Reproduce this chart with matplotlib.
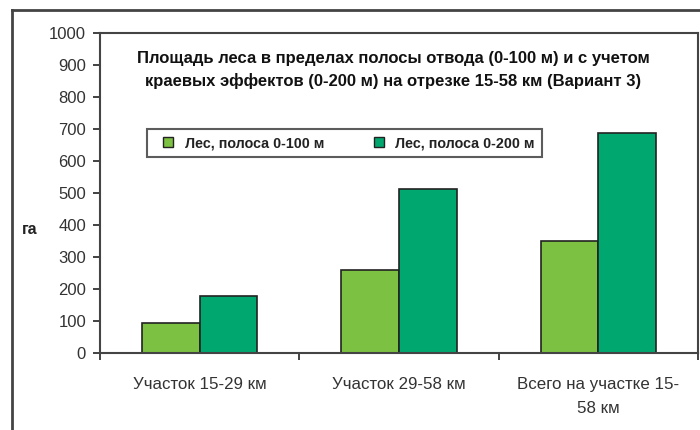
import numpy as np
import matplotlib
matplotlib.use('Agg')
from matplotlib import pyplot as plt
from matplotlib.lines import Line2D

# chart data
categories = ['Участок 15-29 км', 'Участок 29-58 км', 'Всего на участке 15-\n58 км']
forest_100 = [95, 258, 350]
forest_200 = [178, 512, 688]
series_names = ['Лес, полоса 0-100 м', 'Лес, полоса 0-200 м']
y_ticks = [0, 100, 200, 300, 400, 500, 600, 700, 800, 900, 1000]

title = ('Площадь леса в пределах полосы отвода (0-100 м) и с учетом\n'
         'краевых эффектов (0-200 м) на отрезке 15-58 км (Вариант 3)')

plt.rcParams['font.family'] = ['Liberation Sans', 'DejaVu Sans']

light_green = '#7DC142'
dark_green = '#00A870'
edge = '#222222'
text_color = '#333333'

fig = plt.figure(figsize=(7, 4.3), dpi=100)
ax = fig.add_axes([100 / 700, 77 / 430, 598 / 700, 320 / 430])

x = np.arange(len(categories))
width = 0.29
ax.bar(x - width / 2, forest_100, width, color=light_green, edgecolor=edge, linewidth=1.2,
       label=series_names[0])
ax.bar(x + width / 2, forest_200, width, color=dark_green, edgecolor=edge, linewidth=1.2,
       label=series_names[1])

ax.set_xlim(-0.5, len(categories) - 0.5)
ax.set_ylim(0, 1000)
ax.set_yticks(y_ticks)
ax.set_yticklabels([str(v) for v in y_ticks], fontsize=12, color=text_color)
ax.tick_params(axis='y', direction='out', length=5, width=1.2, color=edge, pad=5)

# category labels centred, ticks between categories
ax.set_xticks(x)
ax.set_xticklabels(categories, fontsize=12.2, color=text_color, linespacing=1.75)
ax.tick_params(axis='x', length=0, pad=17)
ax.set_xticks(np.arange(len(categories) + 1) - 0.5, minor=True)
ax.tick_params(axis='x', which='minor', direction='out', length=5, width=1.2, color=edge)

for side in ['left', 'bottom', 'top', 'right']:
    ax.spines[side].set_color('#444444')
    ax.spines[side].set_linewidth(1.5)

ax.text(0.49, 0.945, title, transform=ax.transAxes, ha='center', va='top',
        fontsize=12, fontweight='bold', color='#111111', linespacing=1.55)

handles = [Line2D([], [], marker='s', linestyle='none', markersize=7,
                  markerfacecolor=c, markeredgecolor=edge) for c in (light_green, dark_green)]
leg = ax.legend(handles, series_names, loc='upper left', bbox_to_anchor=(0.0786, 0.70),
                ncol=2, frameon=True, fancybox=False, fontsize=10.3, handletextpad=0.15,
                columnspacing=2.8, borderpad=0.5, handlelength=2.0, borderaxespad=0)
leg.get_frame().set_edgecolor('#333333')
leg.get_frame().set_linewidth(1.5)
for t in leg.get_texts():
    t.set_fontweight('bold')
    t.set_color('#222222')

fig.text(22 / 700, 1 - 230 / 430, 'га', fontsize=11.5, fontweight='bold', ha='left',
         va='center', color='#222222')

# outer chart frame
fig.add_artist(Line2D([12 / 700, 1], [1 - 10 / 430, 1 - 10 / 430], transform=fig.transFigure,
                      color='#444444', linewidth=2))
fig.add_artist(Line2D([12 / 700, 12 / 700], [0, 1 - 10 / 430], transform=fig.transFigure,
                      color='#444444', linewidth=2))

fig.savefig('out.png', dpi=100)
